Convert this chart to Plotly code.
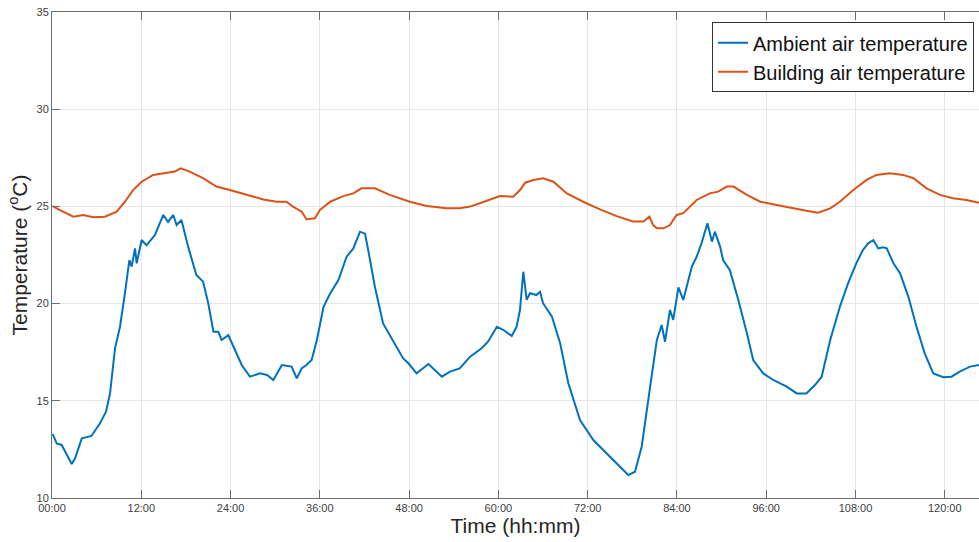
import plotly.graph_objects as go

# Ambient air temperature (hours, °C)
ambient_hours = [0.1, 0.63, 1.3, 2.65, 3.1, 4.0, 5.3, 6.45, 7.26, 7.8, 8.47, 9.14, 9.8, 10.4, 10.7,
                 11.16, 11.38, 12.05, 12.7, 13.84, 14.3, 14.96, 15.6, 16.3, 16.75, 17.4, 18.3, 19.4,
                 20.3, 21.0, 21.7, 22.35, 22.8, 23.7, 24.4, 25.5, 26.6, 27.96, 28.9, 29.75, 30.9,
                 32.2, 32.9, 33.56, 34.2, 34.9, 35.6, 36.5, 37.4, 38.5, 39.6, 40.5, 41.4, 42.07,
                 42.5, 43.4, 44.5, 45.9, 47.2, 47.9, 49.0, 50.6, 52.4, 53.5, 54.8, 56.2, 57.75,
                 58.6, 59.8, 60.7, 61.8, 62.45, 62.9, 63.35, 63.8, 64.25, 65.1, 65.6, 66.0, 67.2,
                 68.3, 69.4, 70.97, 72.76, 74.55, 75.9, 77.46, 78.36, 79.26, 80.4, 81.3, 81.95,
                 82.4, 83.06, 83.5, 84.2, 84.85, 86.0, 86.65, 87.3, 88.1, 88.7, 89.1, 89.8, 90.2,
                 91.1, 92.25, 93.4, 94.25, 95.6, 96.95, 98.75, 100.1, 101.4, 102.55, 103.45,
                 104.6, 105.9, 107.0, 108.1, 109.0, 109.7, 110.4, 111.05, 111.7, 112.2, 113.1,
                 113.98, 115.1, 116.2, 117.3, 118.46, 119.8, 120.9, 122.0, 123.4, 124.6]
ambient_temp = [13.29, 12.81, 12.73, 11.75, 12.04, 13.07, 13.19, 13.84, 14.44, 15.38, 17.70, 18.81,
                20.53, 22.24, 21.9, 22.84, 22.07, 23.27, 23.0, 23.53, 23.96, 24.56, 24.2, 24.56,
                24.04, 24.3, 22.93, 21.47, 21.13, 20.02, 18.55, 18.55, 18.13, 18.38, 17.78, 16.84,
                16.24, 16.41, 16.33, 16.07, 16.84, 16.76, 16.16, 16.67, 16.84, 17.10, 18.13, 19.84,
                20.53, 21.21, 22.41, 22.84, 23.70, 23.6, 22.76, 20.87, 18.98, 18.04, 17.18, 16.93,
                16.41, 16.89, 16.24, 16.5, 16.67, 17.27, 17.70, 18.04, 18.81, 18.64, 18.33, 18.81,
                19.67, 21.64, 20.19, 20.53, 20.44, 20.61, 20.02, 19.33, 17.96, 15.90, 14.01, 12.98,
                12.30, 11.78, 11.18, 11.35, 12.64, 15.73, 18.13, 18.90, 18.04, 19.67, 19.16, 20.83,
                20.19, 21.9, 22.41, 23.1, 24.13, 23.19, 23.7, 22.93, 22.24, 21.73, 20.19, 18.47,
                17.10, 16.41, 16.07, 15.73, 15.38, 15.38, 15.81, 16.24, 18.13, 19.84, 21.04, 22.07,
                22.76, 23.1, 23.27, 22.84, 22.9, 22.84, 22.07, 21.56, 20.36, 18.81, 17.44, 16.41,
                16.21, 16.24, 16.50, 16.76, 16.84]

# Building air temperature (hours, °C)
building_hours = [0.1, 1.07, 2.87, 4.2, 5.55, 7.1, 8.7, 9.8, 10.9, 12.05, 13.6, 15.4, 16.5, 17.3,
                  18.5, 20.3, 22.1, 23.9, 26.2, 28.4, 30.2, 31.5, 32.4, 33.56, 34.2, 35.35, 36.0,
                  37.4, 39.15, 40.5, 41.6, 43.4, 45.4, 48.1, 50.36, 53.05, 54.8, 56.2, 57.5, 59.1,
                  60.2, 62.0, 62.9, 63.6, 64.7, 66.0, 67.4, 69.2, 71.4, 73.66, 75.9, 78.1, 79.5,
                  80.3, 80.8, 81.3, 82.2, 83.06, 83.96, 84.85, 85.75, 86.65, 88.4, 89.55, 90.7,
                  91.6, 93.4, 95.2, 97.4, 99.6, 101.4, 103.0, 104.6, 105.9, 107.7, 109.5, 110.8,
                  112.6, 114.4, 115.8, 117.55, 119.35, 121.1, 122.9, 124.6]
building_temp = [25.02, 24.81, 24.47, 24.56, 24.44, 24.47, 24.73, 25.24, 25.84, 26.27, 26.62, 26.73,
                 26.79, 26.96, 26.79, 26.45, 26.02, 25.84, 25.59, 25.36, 25.24, 25.24, 24.99, 24.73,
                 24.34, 24.39, 24.81, 25.24, 25.53, 25.67, 25.93, 25.93, 25.59, 25.24, 25.02, 24.90,
                 24.90, 24.99, 25.16, 25.36, 25.53, 25.50, 25.84, 26.22, 26.36, 26.45, 26.27, 25.67,
                 25.24, 24.85, 24.5, 24.22, 24.22, 24.47, 24.04, 23.87, 23.87, 24.04, 24.56, 24.65,
                 24.99, 25.33, 25.67, 25.76, 26.02, 26.02, 25.59, 25.24, 25.07, 24.90, 24.78, 24.68,
                 24.90, 25.24, 25.84, 26.36, 26.62, 26.70, 26.62, 26.45, 25.93, 25.59, 25.42, 25.33,
                 25.19]

x_tick_vals = [0, 12, 24, 36, 48, 60, 72, 84, 96, 108, 120]
x_tick_text = ["00:00", "12:00", "24:00", "36:00", "48:00", "60:00", "72:00", "84:00",
               "96:00", "108:00", "120:00"]
y_tick_vals = [10, 15, 20, 25, 30, 35]

fig = go.Figure()
fig.add_trace(go.Scatter(x=ambient_hours, y=ambient_temp, mode="lines",
                         name="Ambient air temperature",
                         line=dict(color="#0072BD", width=2)))
fig.add_trace(go.Scatter(x=building_hours, y=building_temp, mode="lines",
                         name="Building air temperature",
                         line=dict(color="#D95319", width=2)))

axis_font = dict(family="Liberation Sans, Arial, sans-serif", size=11, color="#404040")
fig.update_layout(
    width=979, height=542,
    margin=dict(l=52, r=0, t=12, b=44, autoexpand=False),
    paper_bgcolor="white", plot_bgcolor="white",
    font=dict(family="Liberation Sans, Arial, sans-serif", color="#262626"),
    showlegend=True,
    legend=dict(x=0.712, y=0.979, xanchor="left", yanchor="top",
                bgcolor="white", bordercolor="#333333", borderwidth=1,
                font=dict(size=20, color="#111111"), tracegroupgap=0),
    xaxis=dict(range=[0, 124.6], tickvals=x_tick_vals, ticktext=x_tick_text,
               tickfont=axis_font, showgrid=True, gridcolor="#e6e6e6",
               showline=True, linecolor="#6e6e6e", linewidth=1, mirror="ticks",
               ticks="inside", ticklen=8, tickcolor="#6e6e6e", zeroline=False,
               automargin=False, ticklabeloverflow="allow",
               title=dict(text="Time (hh:mm)", font=dict(size=21, color="#262626"), standoff=2)),
    yaxis=dict(range=[10, 35], tickvals=y_tick_vals, tickfont=axis_font,
               showgrid=True, gridcolor="#e6e6e6",
               showline=True, linecolor="#6e6e6e", linewidth=1, mirror=False,
               ticks="inside", ticklen=8, tickcolor="#6e6e6e", zeroline=False,
               automargin=False, ticklabeloverflow="allow",
               title=dict(text="Temperature (<sup>o</sup>C)", font=dict(size=21, color="#262626"), standoff=3)),
)

fig.write_html(
    "out.html",
    config={"displayModeBar": False},
    post_script="document.body.style.margin='0';document.body.style.overflow='hidden';"
)
